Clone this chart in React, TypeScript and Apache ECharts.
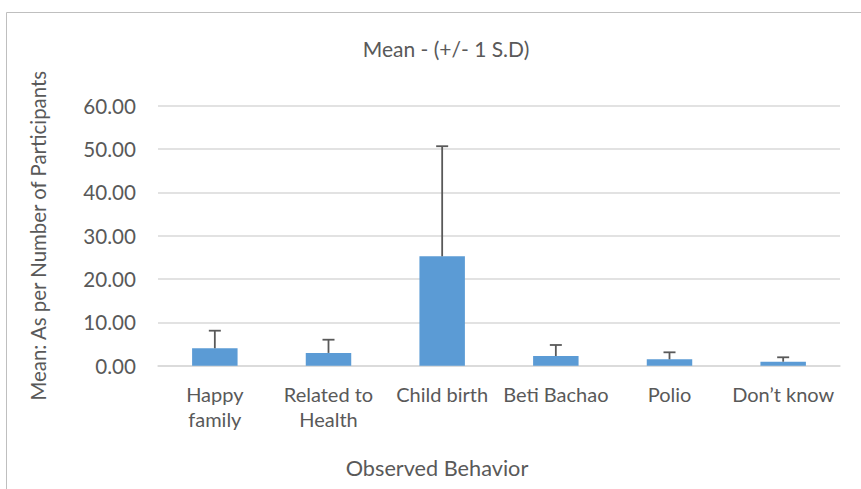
import React, { useEffect, useRef } from "react";
import * as echarts from "echarts";

const categories = ["Happy\nfamily", "Related to\nHealth", "Child birth", "Beti Bachao", "Polio", "Don’t know"];
const means = [4.02, 2.95, 25.25, 2.24, 1.47, 0.92];
const sds = [4.06, 3.05, 25.4, 2.54, 1.62, 1.02];
const yTicks = { min: 0, max: 60, interval: 10 };

const FONT = "Lato, 'Open Sans', sans-serif";
const TEXT = "#595959";

export default function App() {
  const ref = useRef<HTMLDivElement>(null);
  useEffect(() => {
    document.body.style.margin = "0";
    const chart = echarts.init(ref.current!, null, { renderer: "svg" });
    const errData = means.map((m, i) => [i, m, m + sds[i]]);
    chart.setOption({
      animation: false,
      backgroundColor: "#ffffff",
      textStyle: { fontFamily: FONT },
      title: {
        text: "Mean - (+/- 1 S.D)",
        left: 441,
        top: 33,
        textAlign: "center",
        textStyle: { fontFamily: FONT, fontSize: 21, fontWeight: "normal", color: TEXT },
      },
      graphic: [
        {
          type: "rect",
          shape: { x: 6.5, y: 12.5, width: 900, height: 520 },
          style: { fill: "none", stroke: "#BFBFBF", lineWidth: 1 },
          silent: true,
        },
        {
          type: "text",
          x: 437,
          y: 468,
          style: {
            text: "Observed Behavior",
            fontFamily: FONT,
            fontSize: 21.7,
            fill: TEXT,
            align: "center",
            verticalAlign: "middle",
          },
          silent: true,
        },
      ],
      grid: { left: 158, right: 21, top: 105.7, bottom: 123.3 },
      xAxis: {
        type: "category",
        data: categories,
        axisLine: { lineStyle: { color: "#D9D9D9", width: 1.5 } },
        axisTick: { show: false },
        axisLabel: {
          fontFamily: FONT,
          fontSize: 20,
          color: TEXT,
          lineHeight: 25,
          margin: 16,
          interval: 0,
        },
      },
      yAxis: {
        type: "value",
        min: yTicks.min,
        max: yTicks.max,
        interval: yTicks.interval,
        name: "Mean: As per Number of Participants",
        nameLocation: "middle",
        nameGap: 110,
        nameTextStyle: { fontFamily: FONT, fontSize: 20.4, color: TEXT },
        axisLine: { show: false },
        axisTick: { show: false },
        splitLine: { lineStyle: { color: "#D9D9D9", width: 1.5 } },
        axisLabel: {
          fontFamily: FONT,
          fontSize: 20.6,
          color: TEXT,
          margin: 22,
          formatter: (v: number) => v.toFixed(2),
        },
      },
      series: [
        {
          type: "bar",
          data: means,
          barWidth: "40%",
          itemStyle: { color: "#5B9BD5" },
          z: 2,
        },
        {
          type: "custom",
          data: errData,
          z: 3,
          renderItem: (params: any, api: any) => {
            const i = api.value(0);
            const base = api.coord([i, api.value(1)]);
            const top = api.coord([i, api.value(2)]);
            const half = 6;
            return {
              type: "group",
              children: [
                {
                  type: "line",
                  shape: { x1: base[0], y1: base[1], x2: top[0], y2: top[1] },
                  style: { stroke: "#595959", lineWidth: 1.8 },
                },
                {
                  type: "line",
                  shape: { x1: top[0] - half, y1: top[1], x2: top[0] + half, y2: top[1] },
                  style: { stroke: "#595959", lineWidth: 1.8 },
                },
              ],
            };
          },
        },
      ],
    });
    return () => chart.dispose();
  }, []);
  return <div ref={ref} style={{ width: 861, height: 489 }} />;
}
